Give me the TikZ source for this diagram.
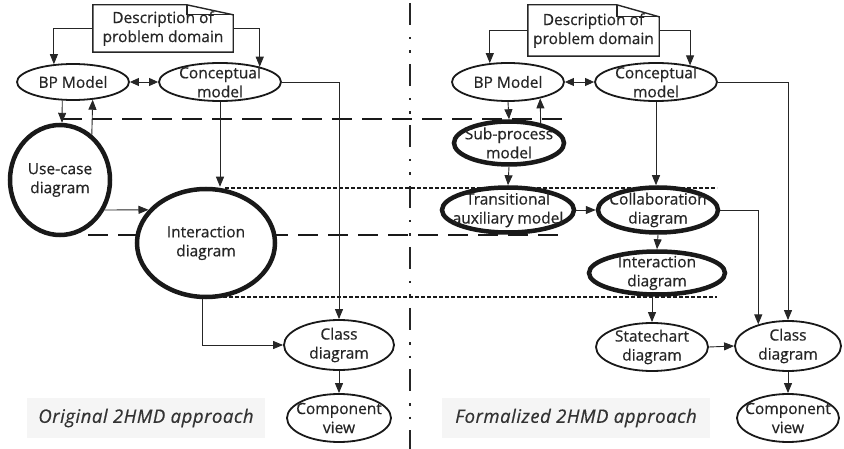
\documentclass[tikz,border=0pt]{standalone}
\usepackage{fontspec}
\setmainfont{Open Sans}
\newfontfamily\boxfont{Open Sans}[FakeBold=0.6]
\newfontfamily\capfont{Open Sans}[FakeBold=0.6, LetterSpace=3]
\usetikzlibrary{shapes.geometric,arrows.meta,calc}

\begin{document}
\begin{tikzpicture}[x=1pt,y=-1pt,
  txt/.style={align=center, text=black!85, font=\boxfont\fontsize{15.5}{19}\selectfont, inner sep=0},
  ell/.style={ellipse, draw=black!90, fill=white, line width=1.8pt, inner sep=0},
  bold ell/.style={ell, line width=4.5pt},
  arr/.style={draw=black!85, line width=0.9pt, -{Triangle[length=10pt,width=8pt]}},
  dblarr/.style={draw=black!85, line width=0.9pt,
    {Triangle[length=9pt,width=8pt]}-{Triangle[length=9pt,width=8pt]}},
  longdash/.style={draw=black!90, line width=2.8pt, dash pattern=on 20pt off 10pt},
  shortdash/.style={draw=black!90, line width=2pt, dash pattern=on 3.5pt off 2.5pt},
  divider/.style={draw=black!85, line width=2.7pt,
    dash pattern=on 22pt off 12pt on 2.5pt off 11pt on 2.5pt off 11pt},
  caption/.style={fill=black!4, minimum height=40pt, inner sep=0, text=black!80,
    font=\capfont\fontsize{18.5}{20}\selectfont\itshape},
  note/.style={draw=black!85, line width=1.4pt, line join=miter}
]
\useasboundingbox (0,0) rectangle (844,449);

% ---- separator between the two approaches
\draw[divider] (410,3) -- (410,449);

% ---- level boundaries
\draw[longdash] (62,119) -- (562,119);
\draw[longdash] (88,235) -- (562,235);
\draw[shortdash] (225,188) -- (717,188);
\draw[shortdash] (205,297) -- (717,297);

% ================= original approach =================
\node[txt, minimum width=140, minimum height=47] (descL) at (163,28.5)
  {Description of\\problem domain};
\draw[note] (descL.north west) -- ($(descL.north west)+(94,0)$)
  -- ($(descL.north east)+(0,10)$) -- (descL.south east)
  -- (descL.south west) -- cycle;
\draw[note] ($(descL.north west)+(94,0)$) -- ++(0,10) -- ($(descL.north east)+(0,10)$);

\node[ell, minimum width=112, minimum height=36,
  label={[txt]center:BP Model}] (bpL) at (73,82) {};
\node[ell, minimum width=122, minimum height=38,
  label={[txt]center:{Conceptual\\model}}] (conL) at (220,82) {};
\node[bold ell, minimum width=100, minimum height=110,
  label={[txt]center:{Use-case\\diagram}}] (ucL) at (60,180) {};
\node[bold ell, minimum width=138, minimum height=108,
  label={[txt]center:{Interaction\\diagram}}] (intL) at (206,243) {};
\node[ell, minimum width=110, minimum height=50,
  label={[txt]center:{Class\\diagram}}] (clsL) at (339,345) {};
\node[ell, minimum width=104, minimum height=48,
  label={[txt]center:{Component\\view}}] (cmpL) at (339,418) {};
\node[caption, minimum width=238] (capL) at (146,418) {Original 2HMD approach};

\draw[arr] (descL.west) -| (bpL.137);
\draw[arr] (descL.east) -| (conL.21);
\draw[dblarr] (bpL.east) -- (conL.west);
\draw[arr] (bpL.240) -- (ucL.88);
\draw[arr] (ucL.55) -- (bpL.318);
\draw[arr] (conL.south) -- (conL.south |- intL.north);
\draw[arr] (ucL.326) -- (intL.150);
\draw[arr] (conL.east) -| (clsL.north);
\draw[arr] (intL.266) |- (clsL.west);
\draw[arr] (clsL.south) -- (cmpL.north);

% ================= formalized approach =================
\node[txt, minimum width=131, minimum height=51] (descR) at (593.5,30.5)
  {Description of\\problem domain};
\draw[note] (descR.north west) -- ($(descR.north west)+(89,0)$)
  -- ($(descR.north east)+(0,12)$) -- (descR.south east)
  -- (descR.south west) -- cycle;
\draw[note] ($(descR.north west)+(89,0)$) -- ++(0,12) -- ($(descR.north east)+(0,12)$);

\node[ell, minimum width=112, minimum height=38,
  label={[txt]center:BP Model}] (bpR) at (508,82) {};
\node[ell, minimum width=122, minimum height=38,
  label={[txt]center:{Conceptual\\model}}] (conR) at (656,82) {};
\node[bold ell, minimum width=110, minimum height=43,
  label={[txt]center:{Sub-process\\model}}] (subR) at (509,143) {};
\node[bold ell, minimum width=132, minimum height=45,
  label={[txt]center:{Transitional\\auxiliary model}}] (trnR) at (508,210) {};
\node[bold ell, minimum width=120, minimum height=45,
  label={[txt]center:{Collaboration\\diagram}}] (colR) at (658,210) {};
\node[bold ell, minimum width=136, minimum height=43,
  label={[txt]center:{Interaction\\diagram}}] (intR) at (657,273) {};
\node[ell, minimum width=112, minimum height=48,
  label={[txt]center:{Statechart\\diagram}}] (stR) at (652,347) {};
\node[ell, minimum width=106, minimum height=50,
  label={[txt]center:{Class\\diagram}}] (clsR) at (788,346) {};
\node[ell, minimum width=102, minimum height=48,
  label={[txt]center:{Component\\view}}] (cmpR) at (788,418) {};
\node[caption, minimum width=268] (capR) at (576,418) {Formalized 2HMD approach};

\draw[arr] (descR.west) -| (bpR.134);
\draw[arr] (descR.east) -| (conR.26);
\draw[dblarr] (bpR.east) -- (conR.west);
\draw[arr] (bpR.south) -- (subR.north);
\draw[arr] (subR.32) -- (bpR.333);
\draw[arr] (subR.south) -- (trnR.north);
\draw[arr] (trnR.east) -- (colR.west);
\draw[arr] (conR.south) -- (conR.south |- colR.north);
\draw[arr] (colR.south) -- (intR.north);
\draw[arr] (stR.north |- intR.south) -- (stR.north);
\draw[arr] (stR.east) -- (clsR.west);
\draw[arr] (colR.east) -| (clsR.144);
\draw[arr] (conR.east) -| (clsR.north);
\draw[arr] (clsR.south) -- (cmpR.north);
\end{tikzpicture}
\end{document}
